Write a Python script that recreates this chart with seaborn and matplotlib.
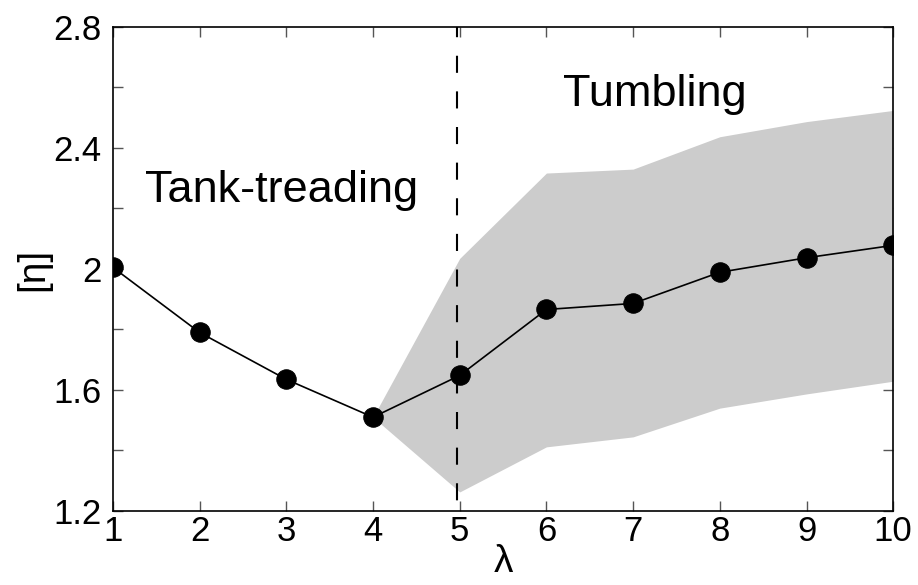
import numpy as np
import pandas as pd
import matplotlib
matplotlib.use("Agg")
import matplotlib.pyplot as plt
import seaborn as sns

lam = [1, 2, 3, 4, 5, 6, 7, 8, 9, 10]
eta = [2.005, 1.79, 1.635, 1.51, 1.648, 1.866, 1.886, 1.989, 2.037, 2.078]
band_x = [4, 5, 6, 7, 8, 9, 10]
band_upper = [1.51, 2.035, 2.317, 2.330, 2.437, 2.487, 2.524]
band_lower = [1.51, 1.263, 1.412, 1.445, 1.540, 1.587, 1.629]
transition = 4.97
yticks = [1.2, 1.6, 2.0, 2.4, 2.8]
ytick_labels = ["1.2", "1.6", "2", "2.4", "2.8"]

sns.set_style("white")
plt.rcParams['font.family'] = ['Liberation Sans', 'DejaVu Sans']
plt.rcParams['text.color'] = 'black'
plt.rcParams['axes.labelcolor'] = 'black'
plt.rcParams['xtick.color'] = 'black'
plt.rcParams['ytick.color'] = 'black'

fig = plt.figure(figsize=(9.18, 5.85), dpi=100)
ax = fig.add_axes([0.123, 0.1265, 0.850, 0.8275])

ax.fill_between(band_x, band_lower, band_upper, color="#cccccc", linewidth=0, zorder=1)

df = pd.DataFrame({"lam": lam, "eta": eta})
sns.lineplot(data=df, x="lam", y="eta", ax=ax, color="black", linewidth=1.2,
             marker="o", markersize=14, markeredgecolor="black", zorder=3)

ax.axvline(transition, ymin=1, ymax=0, color="black", linewidth=1.5,
           linestyle=(3.3, (8.2, 8.9)), zorder=2)

ax.text(2.95, 2.26, "Tank-treading", fontsize=32.5, ha="center", va="center", color="black")
ax.text(7.25, 2.575, "Tumbling", fontsize=32.5, ha="center", va="center", color="black")

ax.set_xlim(1, 10)
ax.set_ylim(1.2, 2.8)
ax.set_xticks(lam)
ax.set_xticklabels([str(v) for v in lam])
ax.set_yticks(yticks)
ax.set_yticklabels(ytick_labels)
ax.set_yticks(np.arange(1.2, 2.81, 0.2), minor=True)
ax.tick_params(axis="both", which="both", direction="in", top=True, right=True,
               left=True, bottom=True, length=7, width=1, color="#555555")
ax.tick_params(axis="both", which="major", labelsize=25, labelcolor="black")
ax.tick_params(axis="x", which="major", pad=3)
ax.tick_params(axis="y", which="major", pad=8)
for s in ax.spines.values():
    s.set_visible(True)
    s.set_color("black")
    s.set_linewidth(1.2)

ax.set_xlabel("λ", fontsize=28, labelpad=-3)
ax.set_ylabel("[η]", fontsize=28, labelpad=2)

fig.savefig("out.png", dpi=100)
